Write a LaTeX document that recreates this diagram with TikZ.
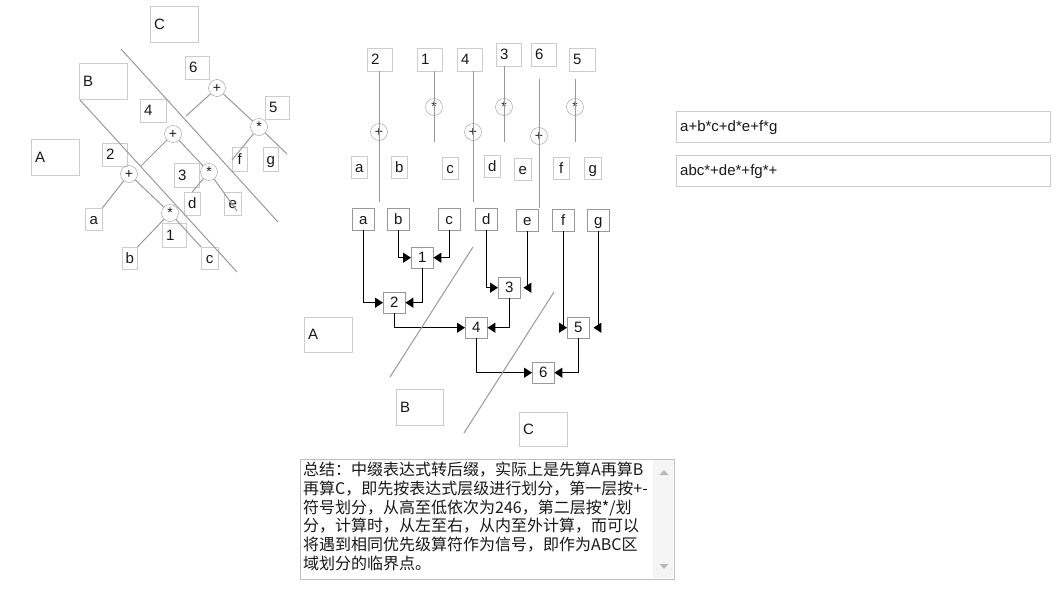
\documentclass[tikz,border=0pt]{standalone}
\usepackage{fontspec}
\setmainfont{Liberation Sans}
\newfontfamily\cjk{Noto Sans CJK SC}
\usetikzlibrary{arrows.meta}
\begin{document}
\begin{tikzpicture}[
    x=1pt, y=-1pt,
    every node/.style={font=\fontsize{15}{17}\selectfont, text=black!90},
    inp/.style={draw=gray!40, fill=white, text height=10.5pt, text depth=0pt,
        path picture={\draw[gray!75, line width=2pt] (path picture bounding box.south west) -- (path picture bounding box.north west) -- (path picture bounding box.north east);}},
    inl/.style 2 args={inp, text width=#1pt, minimum height=#2pt, inner xsep=4pt, inner ysep=0pt, align=left, anchor=north west},
    inc/.style 2 args={inp, minimum width=#1pt, minimum height=#2pt, inner sep=0pt, anchor=north west},
    cell/.style={draw=gray!80, fill=white, minimum width=22pt, minimum height=#1pt, inner sep=0pt, text height=10.5pt, text depth=0pt, anchor=north west},
    cell/.default=22,
    op/.style={circle, draw=gray!80, minimum size=17pt, inner sep=0pt, font=\fontsize{14}{14}\selectfont},
    gl/.style={gray!80, line width=1pt},
    arr/.style={-{Triangle[length=8pt,width=10pt]}, line width=1.2pt, black}
]
\useasboundingbox (0,0) rectangle (1063,608);
% left tree
\node[inl={40}{36}] (ltC) at (150,6) {C};
\node[inl={40}{36}] (ltB) at (79,63) {B};
\node[inl={40}{36}] (ltA) at (31,139) {A};
\node[inl={16}{23}] (lt6) at (185,56) {6};
\node[inl={18}{23}] (lt4) at (140,99) {4};
\node[inl={17}{23}] (lt2) at (102,143) {2};
\node[inl={16}{23}] (lt5) at (265,96) {5};
\node[inl={17}{24}] (lt3) at (174,163) {3};
\node[inl={16}{24}] (lt1) at (162,223) {1};
\node[inc={15}{24}] (ltf) at (232,147) {f};
\node[inc={15}{24}] (ltg) at (263,147) {g};
\node[inc={16}{23}] (ltd) at (184,192) {d};
\node[inc={17}{23}] (lte) at (224,192) {e};
\node[inc={17}{22}] (lta) at (85,208) {a};
\node[inc={15}{22}] (ltb) at (122,247) {b};
\node[inc={17}{22}] (ltc) at (201,247) {c};
\node[op] (q6) at (217,88) {+};
\node[op] (q5) at (259,127) {*};
\node[op] (q4) at (173,134) {+};
\node[op] (q3) at (209,172) {*};
\node[op] (q2) at (129,174) {+};
\node[op] (q1) at (170,213) {*};
\coordinate (k6) at (186,116);
\coordinate (k5) at (287,154);
\coordinate (kf) at (232,160);
\coordinate (k4) at (141,166);
\coordinate (ke) at (237,211);
\draw[gl] (q6) -- (k6);
\draw[gl] (q6) -- (q5) -- (k5);
\draw[gl] (q5) -- (kf);
\draw[gl] (q4) -- (k4);
\draw[gl] (q4) -- (q3);
\draw[gl] (q3) -- (ltd.north);
\draw[gl] (q3) -- (ke);
\draw[gl] (q2) -- (lta.north east);
\draw[gl] (q2) -- (q1);
\draw[gl] (q1) -- (ltb.north east);
\draw[gl] (q1) -- (ltc.north west);
\draw[gl] (80,100) -- (237,272);
\draw[gl] (121,49) -- (278,222);
% middle
\node[inl={17}{23}] (m2) at (367,48) {2};
\node[inl={17}{23}] (m1) at (417,48) {1};
\node[inl={17}{23}] (m4) at (457,48) {4};
\node[inl={17}{23}] (m3) at (496,43) {3};
\node[inl={17}{23}] (m6) at (531,43) {6};
\node[inl={18}{23}] (m5) at (569,48) {5};
\node[op] (o2) at (379,132) {+};
\node[op] (o1) at (434,107) {*};
\node[op] (o4) at (473,132) {+};
\node[op] (o3) at (504,107) {*};
\node[op] (o6) at (539,136) {+};
\node[op] (o5) at (575,107) {*};
\draw[gl] (o2 |- m2.south) -- ++(0,131);
\draw[gl] (o1 |- m1.south) -- ++(0,71);
\draw[gl] (o4 |- m4.south) -- ++(0,131);
\draw[gl] (o3 |- m3.south) -- ++(0,76);
\draw[gl] (o6 |- m6.south) ++(0,13) -- ++(0,129);
\draw[gl] (o5 |- m5.south) ++(0,8) -- ++(0,63);
\node[inc={16}{22}] (ua) at (351,156) {a};
\node[inc={16}{22}] (ub) at (391,156) {b};
\node[inc={16}{22}] (uc) at (442,157) {c};
\node[inc={16}{22}] (ud) at (484,155) {d};
\node[inc={17}{22}] (ue) at (514,158) {e};
\node[inc={16}{22}] (uf) at (553,157) {f};
\node[inc={17}{22}] (ug) at (584,157) {g};
\node[cell] (ra) at (352,208) {a};
\node[cell] (rb) at (387,208) {b};
\node[cell] (rc) at (438,208) {c};
\node[cell] (rd) at (475,208) {d};
\node[cell] (re) at (516,209) {e};
\node[cell] (rf) at (552,209) {f};
\node[cell] (rg) at (587,209) {g};
\node[cell=21] (f1) at (411,247) {1};
\node[cell=21] (f2) at (383,292) {2};
\node[cell=21] (f3) at (498,277) {3};
\node[cell=21] (f4) at (465,317) {4};
\node[cell=21] (f5) at (567,317) {5};
\node[cell=21] (f6) at (532,362) {6};
\node[inl={40}{35}] (mA) at (304,317) {A};
\node[inl={39}{36}] (mB) at (396,389) {B};
\node[inl={40}{34}] (mC) at (519,412) {C};
\draw[arr] (ra.south) |- (f2.west);
\draw[arr] (rb.south) |- (f1.west);
\draw[arr] (rc.south) |- (f1.east);
\draw[arr] (f1.south) |- (f2.east);
\draw[arr] (rd.south) |- (f3.west);
\draw[arr, shorten >=3pt] (re.south) |- (f3.east);
\draw[arr] (f2.south) |- (f4.west);
\draw[arr] (f3.south) |- (f4.east);
\draw[arr] (rf.south) |- (f5.west);
\draw[arr, shorten >=4pt] (rg.south) |- (f5.east);
\draw[arr] (f4.south) |- (f6.west);
\draw[arr] (f5.south) |- (f6.east);
\draw[gl] (473,247) -- (390,377);
\draw[gl] (554,292) -- (464,433);
% right
\node[inl={366}{31}] (infix) at (676,111) {a+b*c+d*e+f*g};
\node[inl={366}{31}] (postfix) at (676,155) {abc*+de*+fg*+};
% note
\draw[gray!50, fill=white] (300,459) rectangle (674,579);
\fill[gray!8] (653,460) rectangle (673,578);
\fill[gray!55] (659.5,475) -- (668.5,475) -- (664,470) -- cycle;
\fill[gray!55] (659.5,564) -- (668.5,564) -- (664,569) -- cycle;
\node[anchor=north west, inner sep=0pt, align=left, font=\cjk\fontsize{16}{18.7}\selectfont] (note) at (303,462)
    {总结：中缀表达式转后缀，实际上是先算A再算B\\再算C，即先按表达式层级进行划分，第一层按+-\\符号划分，从高至低依次为246，第二层按*/划\\分，计算时，从左至右，从内至外计算，而可以\\将遇到相同优先级算符作为信号，即作为ABC区\\域划分的临界点。};
\end{tikzpicture}
\end{document}
